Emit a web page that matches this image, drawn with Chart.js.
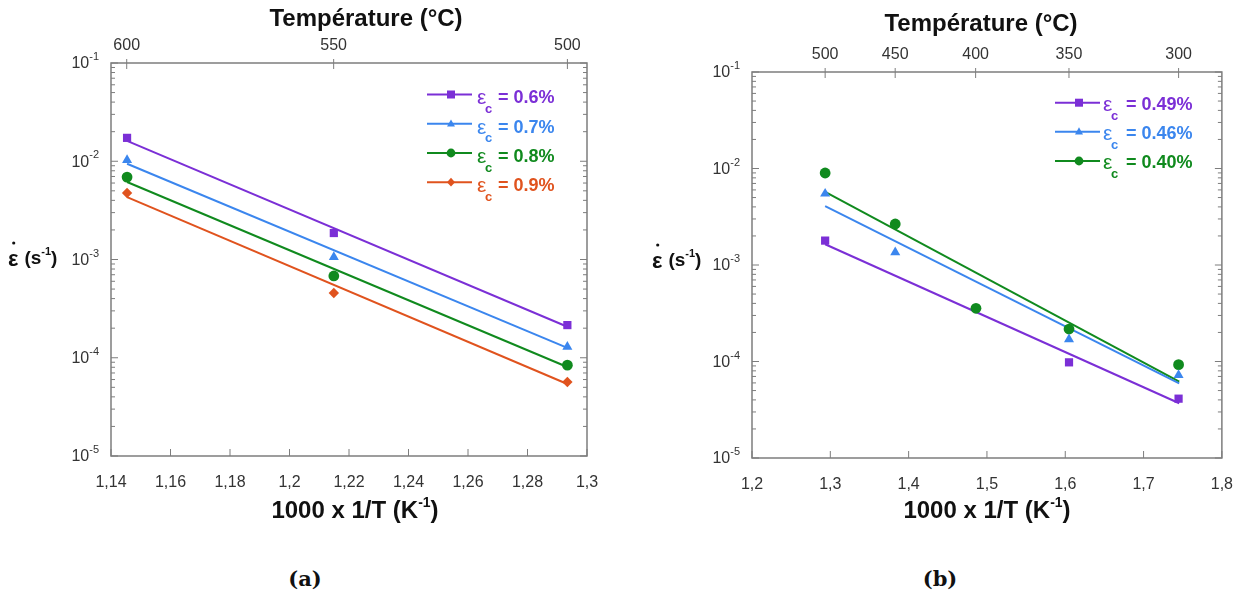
<!DOCTYPE html>
<html><head><meta charset="utf-8">
<script src="https://cdn.jsdelivr.net/npm/chart.js@4.4.1/dist/chart.umd.min.js"></script>
<style>
html,body{margin:0;padding:0;background:#fff;width:1242px;height:597px;overflow:hidden;}
.pane{position:absolute;top:0;}
.pane canvas{display:block;}
.lbl{position:absolute;font:bold 21px "DejaVu Serif";color:#111;transform:translate(-50%,-50%);}
</style></head><body>
<div class="pane" style="left:0"><canvas id="cA" width="620" height="540" style="width:620px;height:540px"></canvas></div>
<div class="pane" style="left:620px"><canvas id="cB" width="622" height="540" style="width:622px;height:540px"></canvas></div>
<div class="lbl" style="left:305px;top:578px">(a)</div>
<div class="lbl" style="left:940px;top:578px">(b)</div>
<script>
// ---------- DATA : panel (a) ----------
const aTempTicks = [600, 550, 500];              // top axis (°C)
const aInvT = [1.1454, 1.2149, 1.2934];          // 1000/T (K^-1)
const aRate06 = [1.73e-2, 1.86e-3, 2.15e-4];
const aRate07 = [1.03e-2, 1.06e-3, 1.29e-4];
const aRate08 = [6.9e-3, 6.8e-4, 8.4e-5];
const aRate09 = [4.75e-3, 4.56e-4, 5.66e-5];
const aFitX = [1.1454, 1.2934];
const aFit06 = [1.61e-2, 2.07e-4];
const aFit07 = [9.44e-3, 1.26e-4];
const aFit08 = [6.15e-3, 8.05e-5];
const aFit09 = [4.32e-3, 5.4e-5];
const aLabels = ['0.6%', '0.7%', '0.8%', '0.9%'];

// ---------- DATA : panel (b) ----------
const bTempTicks = [500, 450, 400, 350, 300];
const bInvT049 = [1.2934, 1.6048, 1.7447];
const bRate049 = [1.79e-3, 9.8e-5, 4.12e-5];
const bInvT046 = [1.2934, 1.3829, 1.6048, 1.7447];
const bRate046 = [5.48e-3, 1.35e-3, 1.70e-4, 7.25e-5];
const bInvT040 = [1.2934, 1.3829, 1.4860, 1.6048, 1.7447];
const bRate040 = [8.98e-3, 2.66e-3, 3.56e-4, 2.17e-4, 9.27e-5];
const bFitX = [1.2934, 1.7455];
const bFit049 = [1.64e-3, 3.69e-5];
const bFit046 = [4.08e-3, 5.94e-5];
const bFit040 = [5.74e-3, 6.18e-5];
const bLabels = ['0.49%', '0.46%', '0.40%'];

const decadeTicks = [1e-5, 1e-4, 1e-3, 1e-2, 1e-1];
const aXTicks = {min: 1.14, max: 1.3, step: 0.02};
const bXTicks = {min: 1.2, max: 1.8, step: 0.1};

const PURPLE = '#7B2FD6', BLUE = '#3B86EE', GREEN = '#108A1E', RED = '#E0531E';
const SANS = '"Liberation Sans", Arial, sans-serif';

function invTemp(T){ return 1000 / (T + 273.15); }
function fmtComma(v){ return String(Number(v.toFixed(3))).replace('.', ','); }
function pts(xs, ys){ return xs.map((x, i) => ({x: x, y: ys[i]})); }

function drawMarker(ctx, style, x, y, r, color){
  ctx.fillStyle = color;
  ctx.beginPath();
  if (style === 'rect') { ctx.rect(x - r, y - r, 2 * r, 2 * r); }
  else if (style === 'triangle') { ctx.moveTo(x, y - r * 1.1); ctx.lineTo(x + r, y + r * 0.7); ctx.lineTo(x - r, y + r * 0.7); ctx.closePath(); }
  else if (style === 'circle') { ctx.arc(x, y, r * 1.1, 0, Math.PI * 2); }
  else if (style === 'rectRot') { ctx.moveTo(x, y - r * 1.1); ctx.lineTo(x + r, y); ctx.lineTo(x, y + r * 1.1); ctx.lineTo(x - r, y); ctx.closePath(); }
  ctx.fill();
}

function textWithSup(ctx, parts, x, y, align){
  let w = 0;
  parts.forEach(p => { ctx.font = p.font; p.w = ctx.measureText(p.t).width; w += p.w; });
  let cx = align === 'center' ? x - w / 2 : (align === 'right' ? x - w : x);
  ctx.textAlign = 'left';
  ctx.textBaseline = 'middle';
  parts.forEach(p => { ctx.font = p.font; ctx.fillText(p.t, cx, y + (p.dy || 0)); cx += p.w; });
}

const framePlugin = {
  id: 'frame',
  afterDraw(chart, args, o) {
    const ctx = chart.ctx, a = chart.chartArea;
    const xs = chart.scales.x, ys = chart.scales.y, ts = chart.scales.top;
    ctx.save();
    ctx.strokeStyle = '#7d7d7d';
    ctx.lineWidth = 1.5;
    ctx.strokeRect(a.left, a.top, a.right - a.left, a.bottom - a.top);
    ctx.lineWidth = 1;
    const L = (x1, y1, x2, y2) => { ctx.beginPath(); ctx.moveTo(x1, y1); ctx.lineTo(x2, y2); ctx.stroke(); };
    xs.ticks.forEach(tk => { const p = xs.getPixelForValue(tk.value); L(p, a.bottom, p, a.bottom - 7); });
    ts.ticks.forEach(tk => { const p = ts.getPixelForValue(tk.value); L(p, a.top - 4, p, a.top + 6); });
    decadeTicks.forEach(d => {
      const p = ys.getPixelForValue(d);
      L(a.left, p, a.left + 7, p); L(a.right - 7, p, a.right, p);
      if (d < 0.1) {
        for (let m = 2; m <= 9; m++) {
          const q = ys.getPixelForValue(d * m);
          L(a.left, q, a.left + 4, q); L(a.right - 4, q, a.right, q);
        }
      }
    });
    ctx.fillStyle = '#333';
    decadeTicks.forEach(d => {
      const p = ys.getPixelForValue(d);
      const e = Math.round(Math.log10(d));
      textWithSup(ctx, [
        {t: '10', font: '16px ' + SANS, dy: 1},
        {t: String(e), font: '11px ' + SANS, dy: -6}
      ], a.left - 12, p, 'right');
    });
    ctx.fillStyle = '#111';
    textWithSup(ctx, [{t: 'Température (°C)', font: 'bold 24px ' + SANS}], o.topTitle[0], o.topTitle[1], 'center');
    textWithSup(ctx, [
      {t: '1000 x 1/T (K', font: 'bold 24px ' + SANS},
      {t: '-1', font: 'bold 14px ' + SANS, dy: -8},
      {t: ')', font: 'bold 24px ' + SANS}
    ], o.xTitle[0], o.xTitle[1], 'center');
    const yx = o.yTitle[0], yy = o.yTitle[1];
    ctx.font = 'bold 22px ' + SANS;
    ctx.textAlign = 'left'; ctx.textBaseline = 'middle';
    const ew = ctx.measureText('ε').width;
    ctx.fillText('ε', yx, yy + 1);
    ctx.beginPath(); ctx.arc(yx + ew / 2 + 0.5, yy - 16, 1.6, 0, Math.PI * 2); ctx.fill();
    textWithSup(ctx, [
      {t: '(s', font: 'bold 19px ' + SANS},
      {t: '-1', font: 'bold 11px ' + SANS, dy: -7},
      {t: ')', font: 'bold 19px ' + SANS}
    ], yx + ew + 6, yy, 'left');
    const lg = o.legend;
    o.series.forEach((s, i) => {
      const ry = lg.rows[i];
      ctx.strokeStyle = s.color; ctx.lineWidth = 2;
      L(lg.x0, ry, lg.x1, ry);
      drawMarker(ctx, s.style, lg.mx, ry, 4, s.color);
      ctx.fillStyle = s.color;
      ctx.textAlign = 'left'; ctx.textBaseline = 'middle';
      ctx.font = '21px ' + SANS;
      ctx.fillText('ε', lg.tx, ry + lg.dy);
      ctx.font = 'bold 13px ' + SANS;
      ctx.fillText('c', lg.tx + 8, ry + lg.dy + 11);
      ctx.font = 'bold 18px ' + SANS;
      ctx.fillText('= ' + s.label, lg.tx + lg.gap, ry + lg.dy);
    });
    ctx.restore();
  }
};

function makeChart(id, cfg){
  const datasets = [];
  cfg.series.forEach(s => {
    datasets.push({
      data: pts(s.x, s.y), showLine: false, pointStyle: s.style, pointRadius: s.r,
      pointHoverRadius: s.r, backgroundColor: s.color, borderColor: s.color, pointBorderWidth: 0
    });
  });
  cfg.series.forEach(s => {
    datasets.push({
      data: pts(s.fitX, s.fitY), showLine: true, pointRadius: 0, borderColor: s.color,
      borderWidth: 2, backgroundColor: s.color, fill: false
    });
  });
  return new Chart(document.getElementById(id), {
    type: 'scatter',
    data: {datasets: datasets},
    plugins: [framePlugin],
    options: {
      responsive: false, animation: false, devicePixelRatio: 1,
      layout: {padding: {left: 0, right: cfg.padRight, top: 0, bottom: 0}},
      plugins: {
        legend: {display: false}, tooltip: {enabled: false},
        frame: {topTitle: cfg.topTitle, xTitle: cfg.xTitle, yTitle: cfg.yTitle, legend: cfg.legend, series: cfg.series}
      },
      scales: {
        x: {
          type: 'linear', position: 'bottom', min: cfg.xt.min, max: cfg.xt.max,
          grid: {display: false}, border: {display: false},
          ticks: {stepSize: cfg.xt.step, padding: 9, color: '#333', font: {family: SANS, size: 16},
                  callback: v => fmtComma(v), maxRotation: 0, autoSkip: false},
          afterFit: s => { s.height = cfg.bottomH; }
        },
        top: {
          type: 'linear', position: 'top', min: cfg.xt.min, max: cfg.xt.max,
          grid: {display: false}, border: {display: false},
          afterBuildTicks: s => { s.ticks = cfg.temps.map(T => ({value: invTemp(T)})); },
          ticks: {padding: cfg.topPad, color: '#333', font: {family: SANS, size: 16},
                  callback: (v, i) => String(cfg.temps[i]), maxRotation: 0, autoSkip: false},
          afterFit: s => { s.height = cfg.topH; }
        },
        y: {
          type: 'logarithmic', position: 'left', min: 1e-5, max: 1e-1,
          grid: {display: false}, border: {display: false},
          ticks: {display: false},
          afterFit: s => { s.width = cfg.leftW; }
        }
      }
    }
  });
}

makeChart('cA', {
  temps: aTempTicks, xt: aXTicks, padRight: 33, bottomH: 84, topH: 63, leftW: 111, topPad: 0,
  topTitle: [366, 19], xTitle: [355, 511], yTitle: [8, 259],
  legend: {x0: 427, x1: 472, mx: 451, tx: 477, gap: 21, dy: 4, rows: [94.5, 123.8, 153, 182.2]},
  series: [
    {label: aLabels[0], color: PURPLE, style: 'rect', r: 5.8, x: aInvT, y: aRate06, fitX: aFitX, fitY: aFit06},
    {label: aLabels[1], color: BLUE, style: 'triangle', r: 5.8, x: aInvT, y: aRate07, fitX: aFitX, fitY: aFit07},
    {label: aLabels[2], color: GREEN, style: 'circle', r: 5.4, x: aInvT, y: aRate08, fitX: aFitX, fitY: aFit08},
    {label: aLabels[3], color: RED, style: 'rectRot', r: 5.2, x: aInvT, y: aRate09, fitX: aFitX, fitY: aFit09}
  ]
});

makeChart('cB', {
  temps: bTempTicks, xt: bXTicks, padRight: 20, bottomH: 82, topH: 72, leftW: 132, topPad: 0,
  topTitle: [361, 24], xTitle: [367, 511], yTitle: [32, 261],
  legend: {x0: 435, x1: 480, mx: 459, tx: 483, gap: 23, dy: 2.5, rows: [102.7, 131.7, 161]},
  series: [
    {label: bLabels[0], color: PURPLE, style: 'rect', r: 5.8, x: bInvT049, y: bRate049, fitX: bFitX, fitY: bFit049},
    {label: bLabels[1], color: BLUE, style: 'triangle', r: 5.8, x: bInvT046, y: bRate046, fitX: bFitX, fitY: bFit046},
    {label: bLabels[2], color: GREEN, style: 'circle', r: 5.4, x: bInvT040, y: bRate040, fitX: bFitX, fitY: bFit040}
  ]
});
</script>
</body></html>
